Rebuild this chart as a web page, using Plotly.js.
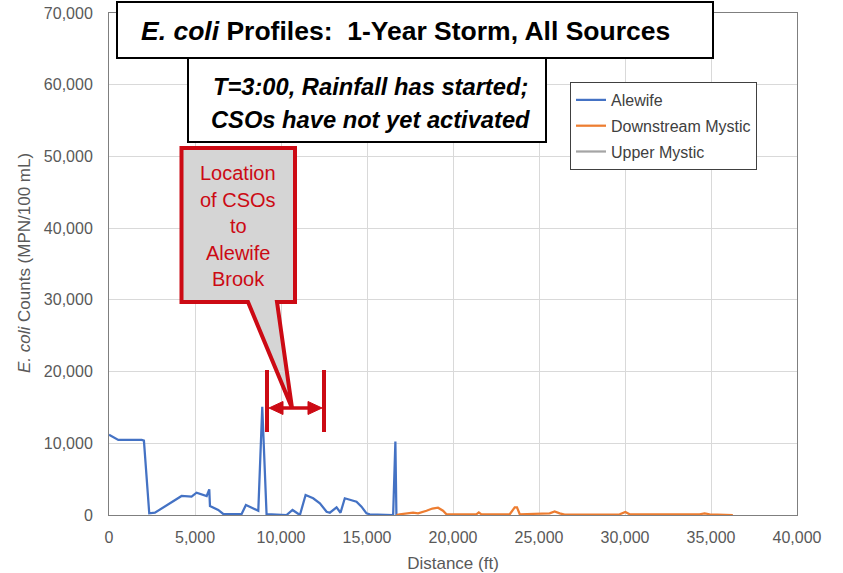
<!DOCTYPE html>
<html>
<head>
<meta charset="utf-8">
<script src="https://cdn.plot.ly/plotly-3.0.1.min.js"></script>
<style>html,body{margin:0;padding:0;background:#fff;}#chart{width:843px;height:573px;}</style>
</head>
<body>
<div id="chart"></div>
<script>
// ---- Data ----
const alewifeX = [0, 540, 1900, 2030, 2340, 2670, 4220, 4800, 5090, 5680, 5830, 5870, 6350, 6640, 7710, 7960, 8680, 8910, 9160, 10320, 10670, 11100, 11430, 11870, 12260, 12650, 12840, 13230, 13460, 13710, 14390, 14680, 14970, 15160, 16520, 16650, 16710];
const alewifeY = [11200, 10460, 10460, 10360, 230, 320, 2650, 2560, 3110, 2650, 3580, 1250, 700, 140, 140, 1390, 600, 15100, 140, 0, 700, 0, 2790, 2330, 1630, 460, 320, 1070, 320, 2330, 1860, 1160, 230, 100, 0, 10230, 0];

const downstreamX = [16710, 16900, 17680, 17970, 18460, 18800, 19130, 19420, 19620, 21360, 21500, 21650, 23300, 23590, 23720, 23880, 25620, 25910, 26200, 26490, 29690, 30020, 30270, 31820, 34340, 34630, 34920, 36270];
const downstreamY = [0, 100, 320, 230, 600, 900, 1020, 600, 100, 100, 370, 100, 100, 1070, 1070, 100, 230, 510, 230, 50, 100, 420, 100, 140, 100, 230, 100, 0];

// Upper Mystic: no visible values in the picture (legend entry only)
const upperMysticX = [null];
const upperMysticY = [null];

const seriesNames = ['Alewife', 'Downstream Mystic', 'Upper Mystic'];
const seriesColors = ['#4472c4', '#ed7d31', '#a5a5a5'];

const xTickVals = [0, 5000, 10000, 15000, 20000, 25000, 30000, 35000, 40000];
const yTickVals = [0, 10000, 20000, 30000, 40000, 50000, 60000, 70000];

const titleText = '<b><i>E. coli</i> Profiles:\u00a0\u00a01-Year Storm, All Sources</b>';
const subtitleLines = ['<b><i>T=3:00, Rainfall has started;</i></b>', '<b><i>CSOs have not yet activated</i></b>'];
const calloutLines = ['Location', 'of CSOs', 'to', 'Alewife', 'Brook'];
const xTitle = 'Distance (ft)';
const yTitle = '<i>E. coli</i> Counts (MPN/100 mL)';

// ---- Layout helpers (pixel -> paper) ----
const L = 109, R = 797, T = 13, B = 515;
const px = x => (x - L) / (R - L);
const py = y => (B - y) / (B - T);
const P = (x, y) => px(x).toFixed(5) + ',' + py(y).toFixed(5);

const FONT = 'Liberation Sans, Arial, Helvetica, sans-serif';
const RED = '#cc0a14';

const traces = [
  {x: alewifeX, y: alewifeY, name: seriesNames[0], legendgroup: 'a'},
  {x: downstreamX, y: downstreamY, name: seriesNames[1], legendgroup: 'b'},
  {x: upperMysticX, y: upperMysticY, name: seriesNames[2], legendgroup: 'c'}
].map((t, i) => Object.assign(t, {
  type: 'scatter', mode: 'lines', line: {color: seriesColors[i], width: 2.25}, showlegend: true
}));

const shapes = [
  // callout balloon
  {type: 'path', xref: 'paper', yref: 'paper', layer: 'above',
   path: 'M' + P(181.5, 148) + ' L' + P(295, 148) + ' L' + P(295, 302) + ' L' + P(277, 302) +
         ' L' + P(292, 408) + ' L' + P(248, 302) + ' L' + P(181.5, 302) + ' Z',
   fillcolor: '#d5d5d5', line: {color: RED, width: 4}},
  // bracket
  {type: 'line', xref: 'paper', yref: 'paper', layer: 'above', x0: px(267), x1: px(267), y0: py(370), y1: py(432), line: {color: RED, width: 4}},
  {type: 'line', xref: 'paper', yref: 'paper', layer: 'above', x0: px(324), x1: px(324), y0: py(370), y1: py(432), line: {color: RED, width: 4}},
  {type: 'line', xref: 'paper', yref: 'paper', layer: 'above', x0: px(275), x1: px(316), y0: py(408), y1: py(408), line: {color: RED, width: 3.5}},
  {type: 'path', xref: 'paper', yref: 'paper', layer: 'above', path: 'M' + P(269, 408) + ' L' + P(283, 401.5) + ' L' + P(283, 414.5) + ' Z', fillcolor: RED, line: {color: RED, width: 1}},
  {type: 'path', xref: 'paper', yref: 'paper', layer: 'above', path: 'M' + P(322, 408) + ' L' + P(308, 401.5) + ' L' + P(308, 414.5) + ' Z', fillcolor: RED, line: {color: RED, width: 1}},
  // title box
  {type: 'rect', xref: 'paper', yref: 'paper', layer: 'above', x0: px(117), x1: px(713), y0: py(58), y1: py(2), fillcolor: '#ffffff', line: {color: '#000000', width: 2}},
  // subtitle box
  {type: 'rect', xref: 'paper', yref: 'paper', layer: 'above', x0: px(188), x1: px(546), y0: py(142), y1: py(58), fillcolor: '#ffffff', line: {color: '#000000', width: 2}}
];

const annotations = [
  {text: titleText, x: px(405), y: py(31), font: {size: 26.5, color: '#000000', family: FONT}},
  {text: subtitleLines[0], x: px(370), y: py(87), font: {size: 23.7, color: '#000000', family: FONT}},
  {text: subtitleLines[1], x: px(370), y: py(120), font: {size: 23.7, color: '#000000', family: FONT}},
  {text: yTitle, x: px(24), y: py(263), textangle: -90, font: {size: 17, color: '#595959', family: FONT}}
];
const calloutY = [173, 199.5, 226, 252.5, 279];
calloutLines.forEach((s, i) => annotations.push({text: s, x: px(238), y: py(calloutY[i]), font: {size: 20, color: RED, family: FONT}}));
annotations.forEach(a => Object.assign(a, {xref: 'paper', yref: 'paper', showarrow: false, xanchor: 'center', yanchor: 'middle'}));

const layout = {
  width: 843, height: 573,
  margin: {l: L, r: 843 - R, t: T, b: 573 - B, pad: 0},
  paper_bgcolor: '#ffffff', plot_bgcolor: '#ffffff',
  font: {family: FONT, color: '#595959', size: 16},
  xaxis: {
    range: [0, 40000], tickvals: xTickVals, tickformat: ',d', showgrid: true, gridcolor: '#d9d9d9', gridwidth: 1,
    showline: true, mirror: true, linecolor: '#7f7f7f', linewidth: 1, zeroline: false, ticks: '',
    ticklabelstandoff: 8, tickfont: {size: 16, color: '#595959'}, automargin: false,
    title: {text: xTitle, font: {size: 17, color: '#595959'}}
  },
  yaxis: {
    range: [0, 70000], tickvals: yTickVals, tickformat: ',d', showgrid: true, gridcolor: '#d9d9d9', gridwidth: 1,
    showline: true, mirror: true, linecolor: '#7f7f7f', linewidth: 1, zeroline: false, ticks: '',
    ticklabelstandoff: 12, tickfont: {size: 16, color: '#595959'}, automargin: false
  },
  legend: {
    x: px(570), y: py(82), xanchor: 'left', yanchor: 'top', bgcolor: '#ffffff', bordercolor: '#404040', borderwidth: 1,
    font: {size: 16, color: '#404040'}, traceorder: 'grouped', tracegroupgap: 2, itemwidth: 30
  },
  showlegend: true,
  shapes: shapes,
  annotations: annotations
};

Plotly.newPlot('chart', traces, layout, {displayModeBar: false, staticPlot: true});
</script>
</body>
</html>
